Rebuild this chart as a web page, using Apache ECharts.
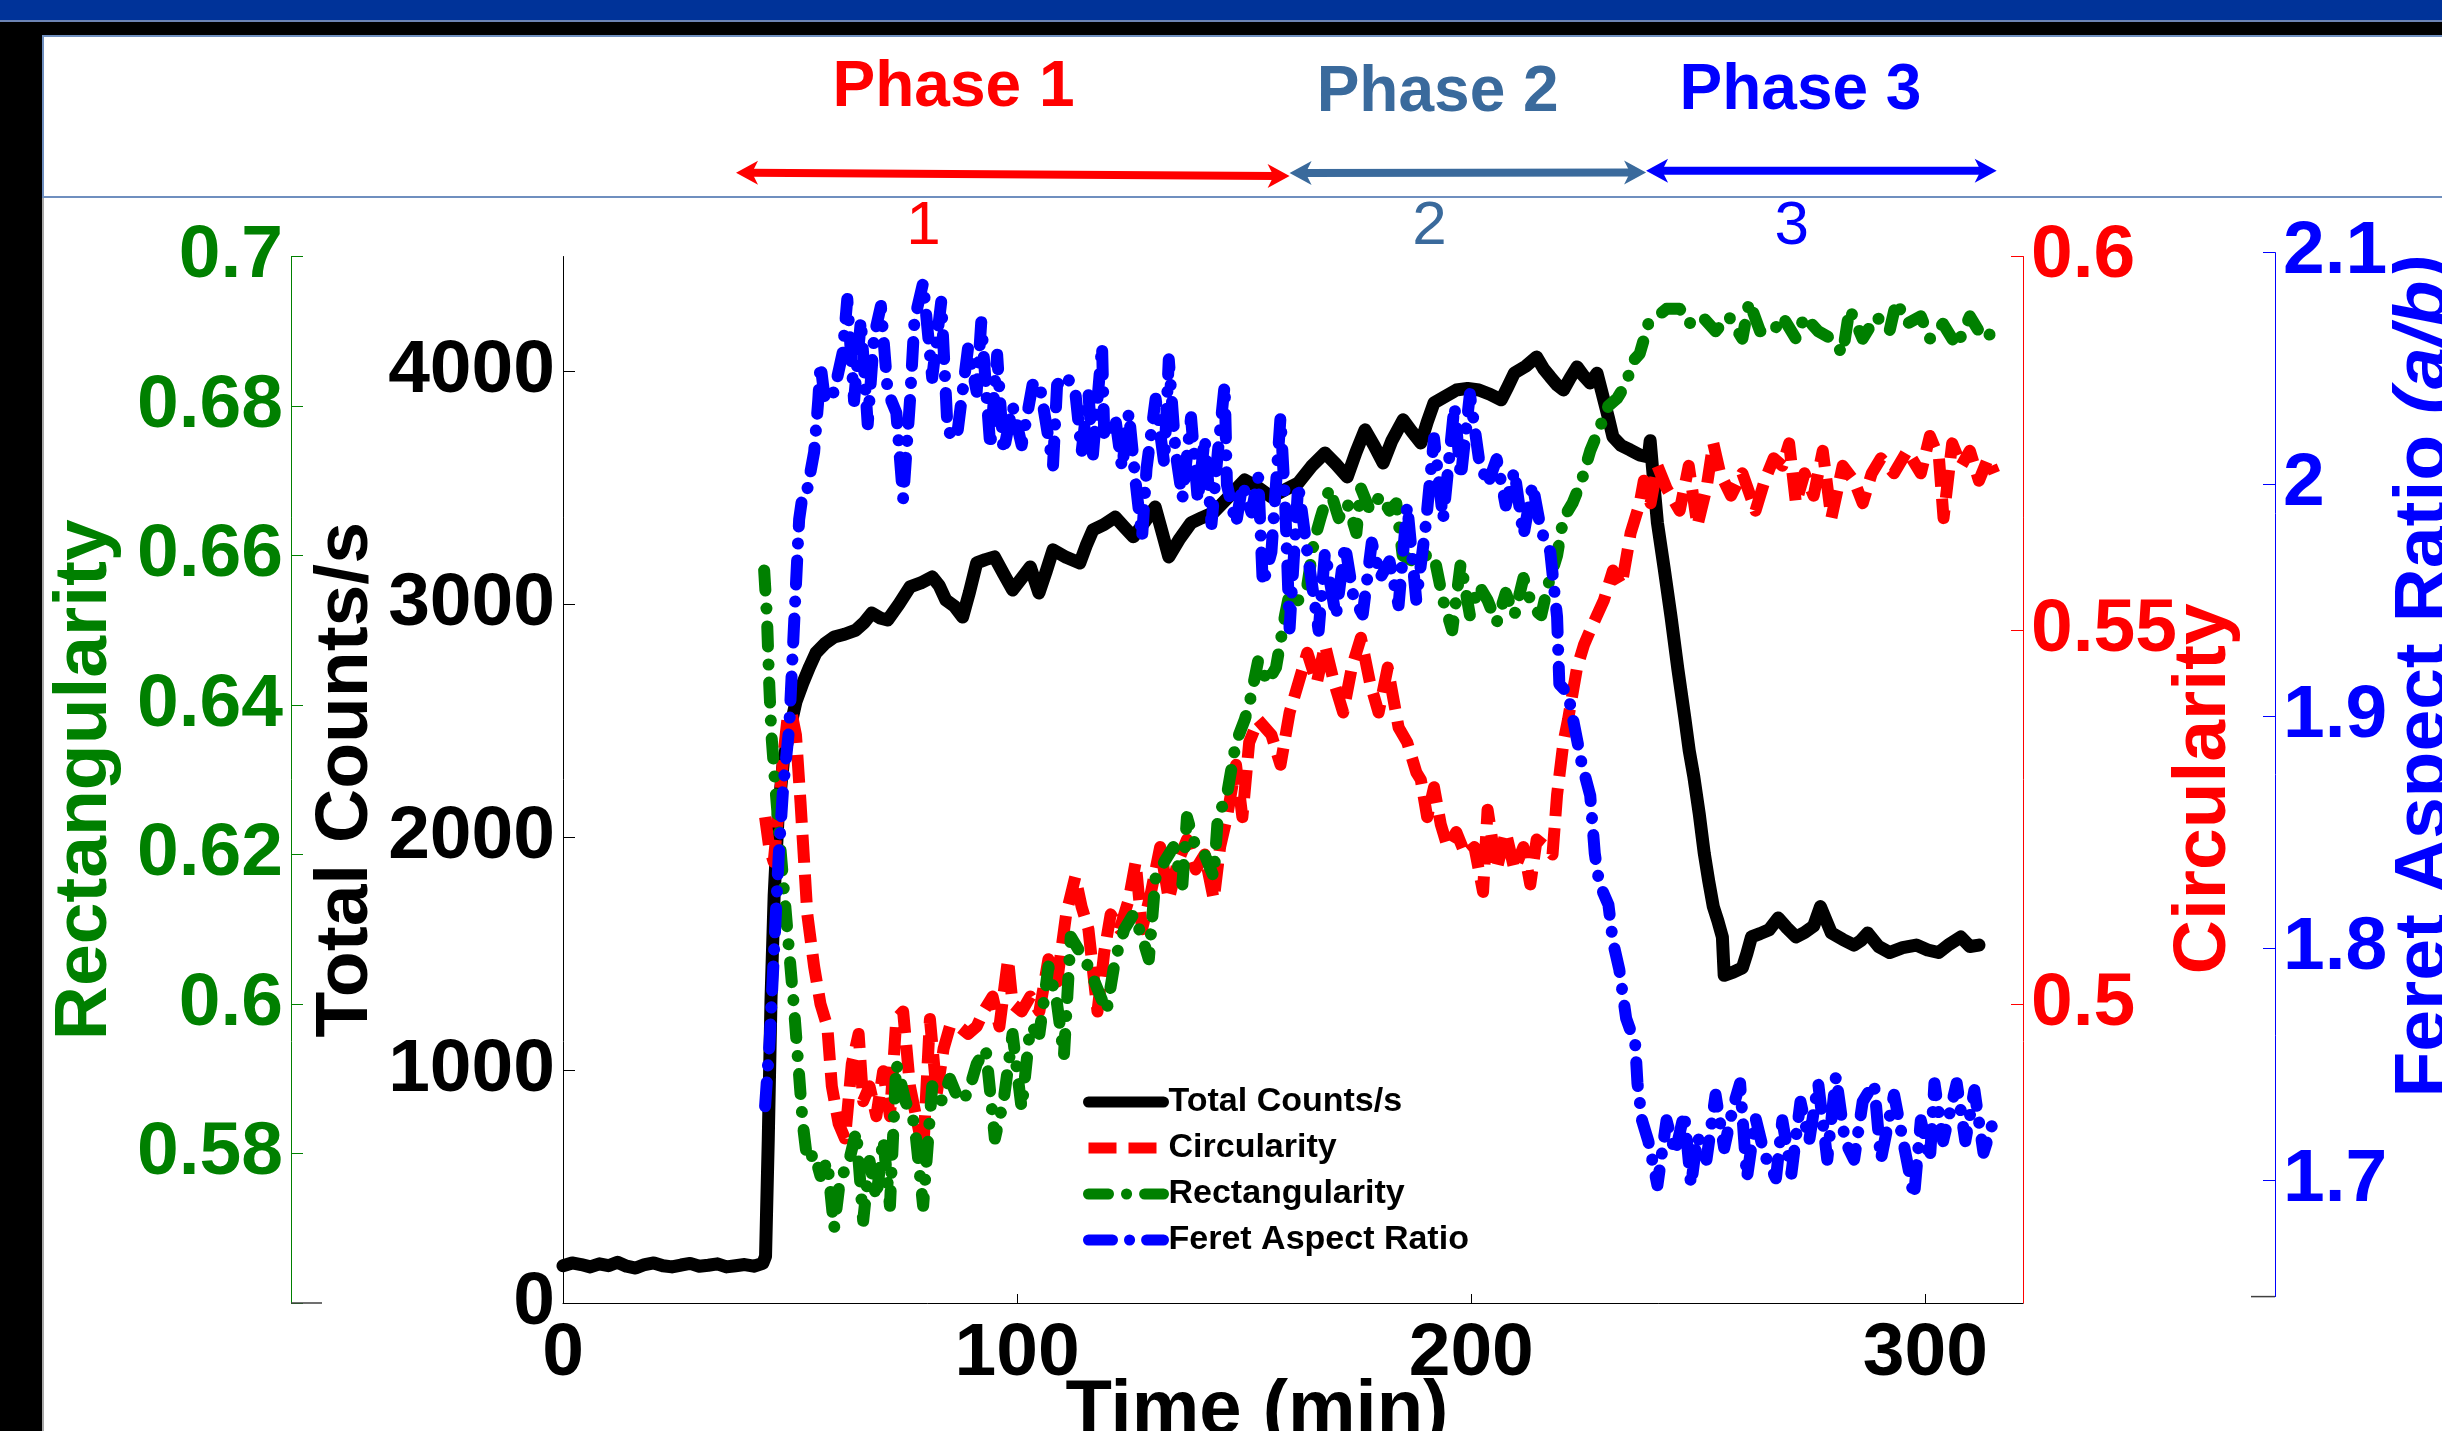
<!DOCTYPE html>
<html><head><meta charset="utf-8">
<script src="https://cdn.jsdelivr.net/npm/echarts@6/dist/echarts.min.js"></script>
<style>html,body{margin:0;padding:0;background:#fff;overflow:hidden}#c{width:2442px;height:1431px}</style>
</head><body><div id="c"></div>
<script>
// ---------------- data ----------------
const countT = [0,2,4,6,8,10,12,14,16,18,20,22,24,26,28,30,32,34,36,38,40,42,44,44.6,45.2,45.8,46.5,47.4,48.5,49.8,51.3,52.8,54.3,55.7,57.7,59.7,62,64.5,66.3,68,69.8,71.5,74,76.4,78.8,81.3,82.8,84.3,86.2,88,89.5,91.1,93,95,97,99,101,102.9,104.8,106.4,107.9,110.8,113.8,115.2,116.7,119.1,121.6,123.6,125.6,128,130.4,131.9,133.4,135.8,138.3,140.7,143.2,146.6,150.1,153,156,159,161.9,164.8,167.8,170.2,172.7,174.6,176.6,178.6,180.6,182.5,185,186.9,188.9,190.3,191.8,194.2,196.7,199.2,201.7,204.1,206.6,208,209.5,212,214.4,215.9,217.4,218.9,220.3,221.8,223.3,224.7,226.2,227.7,229.2,230.2,231.2,233,235,237,239,239.4,240.2,241,242.5,244,245.5,247,248,249,250.2,251.3,252.3,253.3,254.3,255.3,255.7,257.7,259.7,260.7,261.7,263.6,265.6,267.6,269.5,271.5,273.4,275.4,276.9,279.3,281.8,284.3,285.8,287.3,289.7,292.1,295,298,300.5,302.9,305.3,307.8,309.8,311.8];
const countV = [160,172,165,155,168,160,175,158,150,165,172,160,155,163,170,158,162,168,155,160,165,158,170,200,700,1300,1750,2100,2320,2450,2580,2660,2730,2790,2830,2858,2870,2888,2920,2961,2940,2931,3000,3073,3090,3116,3080,3017,2990,2944,3050,3176,3190,3202,3130,3060,3110,3159,3047,3140,3232,3200,3176,3250,3318,3340,3373,3330,3288,3350,3416,3310,3202,3280,3348,3370,3391,3460,3532,3500,3459,3490,3519,3590,3648,3600,3545,3650,3747,3680,3605,3700,3790,3740,3691,3780,3863,3890,3918,3925,3918,3900,3876,3930,3991,4020,4060,4010,3974,3940,3918,3970,4017,3980,3948,3990,3876,3800,3717,3680,3661,3640,3631,3700,3520,3348,3150,2944,2720,2515,2370,2260,2100,1931,1810,1701,1640,1571,1406,1420,1438,1500,1571,1585,1602,1652,1610,1571,1590,1618,1701,1588,1560,1536,1555,1588,1530,1504,1525,1536,1515,1504,1540,1571,1530,1536];

const circT = [44.5,45.4,46.4,47.5,48.5,49.4,50.3,51.3,52.3,53.8,55.3,56.7,58.2,59.2,60.7,62.1,63.6,65.1,66.1,67.5,69.0,70.5,72.0,73.4,74.9,76.4,78.4,79.3,80.8,82.3,83.8,85.2,87.2,89.2,91.1,92.6,94.6,96.1,98.0,99.0,101.0,102.9,104.9,106.9,108.8,110.8,112.8,114.2,115.7,117.7,119.2,120.6,122.6,124.6,126.1,127.5,129.5,131.5,133.4,135.4,137.4,139.3,141.3,143.3,144.7,146.2,148.2,149.6,151.1,153.1,156.0,158.0,160.0,161.0,163.9,166.0,167.8,169.8,171.8,173.7,175.7,177.7,179.6,181.6,184.0,185.9,187.9,188.9,190.3,191.8,193.3,194.8,196.7,198.7,200.7,202.6,203.6,205.6,207.6,209.5,211.5,213.0,214.4,216.4,217.9,218.9,220.3,221.3,223.3,224.8,226.2,227.7,229.2,231.2,233.1,235.1,237.1,238.0,239.5,241.0,243.0,245.9,247.9,249.8,251.8,253.3,254.8,257.2,259.7,262.6,264.6,266.6,268.5,270.0,271.5,273.4,275.4,277.4,279.3,281.8,284.3,286.2,288.2,290.2,293.1,296.0,299.0,301.0,303.0,304.0,305.9,307.9,309.8,311.8,313.8,315.2];
const circV = [0.525,0.521,0.519,0.526,0.533,0.538,0.539,0.536,0.527,0.512,0.505,0.500,0.497,0.489,0.484,0.482,0.492,0.496,0.487,0.489,0.485,0.491,0.485,0.498,0.499,0.489,0.483,0.480,0.498,0.488,0.494,0.497,0.497,0.496,0.497,0.499,0.501,0.497,0.506,0.500,0.499,0.501,0.499,0.506,0.503,0.512,0.517,0.513,0.510,0.499,0.507,0.512,0.510,0.514,0.519,0.510,0.515,0.521,0.514,0.519,0.522,0.518,0.520,0.514,0.521,0.525,0.532,0.525,0.535,0.538,0.536,0.532,0.539,0.541,0.547,0.543,0.548,0.543,0.539,0.545,0.549,0.543,0.539,0.545,0.537,0.535,0.531,0.530,0.525,0.529,0.524,0.521,0.523,0.520,0.521,0.515,0.526,0.518,0.523,0.518,0.521,0.516,0.522,0.521,0.520,0.528,0.535,0.538,0.545,0.548,0.550,0.552,0.554,0.558,0.556,0.563,0.567,0.570,0.567,0.572,0.569,0.566,0.572,0.564,0.569,0.575,0.571,0.568,0.571,0.566,0.570,0.573,0.572,0.575,0.567,0.571,0.568,0.574,0.565,0.572,0.570,0.567,0.571,0.573,0.571,0.574,0.571,0.576,0.573,0.565,0.575,0.572,0.574,0.570,0.573,0.571];

const rectT = [44.3,44.9,45.4,45.9,46.9,48.4,49.8,50.8,51.8,52.8,53.8,55.3,56.7,58.2,59.7,61.1,62.6,64.6,66.1,67.5,69.0,70.5,72.0,73.4,75.4,77.4,79.3,81.3,83.3,85.2,87.2,89.2,91.1,93.1,95.1,97.0,99.0,101.0,102.9,104.9,106.9,108.8,110.3,111.8,113.8,115.7,117.7,119.7,121.6,123.6,125.6,127.5,129.0,130.5,132.4,134.4,136.4,137.4,139.3,141.3,143.3,144.2,146.2,148.2,150.1,151.1,153.1,155.1,157.0,159.0,160.0,161.9,163.9,165.4,166.8,168.8,170.8,172.7,174.7,175.7,177.7,180.0,182.0,183.5,184.9,187.9,189.9,191.8,193.8,195.8,197.7,199.7,201.7,203.6,205.6,207.6,209.5,211.5,213.5,215.4,216.9,218.9,220.3,222.3,224.3,226.2,228.2,230.2,232.1,234.1,235.6,237.1,239.0,241.0,243.0,245.9,247.9,250.8,253.8,256.7,259.7,261.2,263.6,266.6,268.5,271.5,273.4,276.4,279.3,281.8,283.3,286.2,289.2,292.1,293.6,296.0,299.0,301.0,303.9,306.9,309.8,312.8,315.2];
const rectV = [0.658,0.652,0.643,0.636,0.628,0.617,0.607,0.600,0.592,0.584,0.579,0.580,0.577,0.579,0.570,0.577,0.578,0.583,0.571,0.579,0.574,0.582,0.573,0.592,0.587,0.584,0.573,0.589,0.587,0.590,0.587,0.588,0.592,0.594,0.582,0.587,0.596,0.586,0.597,0.596,0.605,0.600,0.593,0.609,0.607,0.605,0.602,0.599,0.606,0.610,0.612,0.609,0.606,0.617,0.619,0.621,0.616,0.625,0.621,0.620,0.617,0.625,0.628,0.635,0.638,0.640,0.646,0.643,0.645,0.652,0.655,0.654,0.656,0.662,0.665,0.669,0.665,0.667,0.663,0.669,0.666,0.668,0.666,0.667,0.660,0.659,0.660,0.660,0.654,0.650,0.659,0.652,0.656,0.654,0.651,0.655,0.652,0.657,0.653,0.652,0.656,0.660,0.665,0.667,0.670,0.674,0.677,0.680,0.681,0.683,0.686,0.687,0.691,0.692,0.693,0.693,0.691,0.692,0.690,0.692,0.689,0.694,0.690,0.690,0.692,0.689,0.692,0.690,0.689,0.687,0.693,0.689,0.692,0.690,0.694,0.691,0.692,0.689,0.691,0.688,0.692,0.689,0.690];

const feretT = [44.5,45.5,46.5,47.5,48.5,49.8,51.3,52.0,52.8,53.7,55.3,56.2,56.7,57.7,59.7,61.6,62.6,64.1,65.6,67.1,68.5,70.0,71.5,73.4,74.9,76.4,77.4,79.3,81.3,83.3,84.7,86.7,89.2,91.1,92.1,94.1,95.6,97.0,99.0,101.0,103.4,104.9,107.9,108.8,110.8,112.8,114.2,115.7,116.7,118.7,119.2,121.6,123.1,124.6,126.1,127.5,128.5,130.5,132.4,133.4,134.9,136.4,138.3,139.8,141.3,142.8,144.2,145.7,146.2,148.2,149.6,151.6,153.1,154.1,156.0,158.0,159.0,160.0,161.9,163.9,166.4,167.8,170.2,172.2,174.1,176.1,178.1,180.0,182.0,184.0,185.9,187.9,189.9,191.8,193.8,196.3,197.7,199.7,201.7,203.6,205.6,207.6,209.5,211.5,213.5,215.4,217.4,218.9,219.4,221.3,222.8,224.3,226.2,227.2,228.2,230.2,231.2,232.6,234.1,236.1,236.6,237.6,239.0,241.0,243.0,244.9,246.9,248.4,249.8,251.8,253.8,255.7,257.7,259.2,260.7,262.6,264.6,267.1,268.5,270.5,272.5,274.4,276.4,278.4,280.3,282.3,284.3,286.2,288.7,290.2,293.1,295.1,297.5,299.0,301.0,302.0,303.9,306.9,308.8,310.8,312.8,314.7];
const feretV = [1.732,1.760,1.800,1.840,1.870,1.895,1.957,1.985,1.996,1.997,2.014,2.036,2.052,2.036,2.040,2.057,2.080,2.036,2.071,2.026,2.064,2.077,2.040,2.031,1.994,2.036,2.071,2.087,2.046,2.079,2.023,2.020,2.059,2.040,2.070,2.016,2.056,2.014,2.034,2.017,2.043,2.044,2.008,2.043,2.047,2.040,2.014,2.039,2.013,2.060,2.020,2.029,2.007,2.031,2.001,1.977,2.007,2.037,2.009,2.054,2.014,1.994,2.029,1.993,2.020,1.983,2.014,2.043,2.000,1.983,2.000,1.988,2.003,1.957,1.971,2.029,1.993,1.938,2.000,1.971,1.937,1.971,1.943,1.974,1.951,1.944,1.975,1.960,1.967,1.948,1.991,1.950,1.981,2.020,1.985,2.034,2.003,2.039,2.011,2.000,2.011,1.991,2.006,1.978,2.000,1.980,1.971,1.943,1.914,1.910,1.895,1.880,1.866,1.841,1.828,1.819,1.803,1.791,1.770,1.759,1.742,1.726,1.717,1.698,1.726,1.712,1.729,1.698,1.719,1.709,1.737,1.714,1.732,1.742,1.701,1.727,1.711,1.701,1.726,1.703,1.734,1.717,1.742,1.709,1.745,1.717,1.709,1.734,1.742,1.709,1.737,1.717,1.693,1.726,1.709,1.742,1.717,1.742,1.717,1.739,1.712,1.724];

const xTicks = [0, 100, 200, 300];
const countTicks = [0, 1000, 2000, 3000, 4000];
const rectTicks = [0.56, 0.58, 0.60, 0.62, 0.64, 0.66, 0.68, 0.70];
const rectLabels = [0.58, 0.60, 0.62, 0.64, 0.66, 0.68, 0.70];
const circTicks = [0.50, 0.55, 0.60];
const feretTicks = [1.7, 1.8, 1.9, 2.0, 2.1];

const phaseNames = ['Phase 1', 'Phase 2', 'Phase 3'];
const phaseNums = ['1', '2', '3'];
const phaseBounds = [38.1, 160.0, 238.5, 315.7];   // time (min) where the phase arrows start / end
const phaseLabelT = [86.0, 192.6, 272.5];
const phaseNumT = [79.4, 190.8, 270.6];
const phaseColors = ['#ff0000', '#3a6a9c', '#0000ff'];

// ---------------- chart ----------------
const FONT = '"Liberation Sans", Arial, Helvetica, sans-serif';
const zip = (a, b) => a.map((t, i) => [t, b[i]]);
const fmt = v => String(+(+v).toFixed(3));
const GL = 563, GR = 2023, GT = 256.5, GB = 1303;
const W = 2442, H = 1431;

function yAx(o) {
  return Object.assign({
    type: 'value', splitLine: { show: false },
    nameLocation: 'middle', nameRotate: 90, nameMoveOverlap: false,
    axisLine: { show: true, onZero: false, lineStyle: { color: o.color, width: 1 } },
    axisTick: { show: true, inside: true, length: 12, customValues: o.ticks, lineStyle: { color: o.color, width: 1 } },
    axisLabel: { customValues: o.labels || o.ticks, formatter: fmt, color: o.color, fontSize: 75, fontWeight: 'bold', fontFamily: FONT, margin: 8 },
    nameTextStyle: Object.assign({ color: o.color, fontSize: 75, fontWeight: 'bold', fontFamily: FONT }, o.nts || {})
  }, o.extra);
}

const chart = echarts.init(document.getElementById('c'), null, { renderer: 'canvas', width: W, height: H });

const option = {
  animation: false,
  backgroundColor: '#ffffff',
  grid: [
    { left: GL, right: W - GR, top: GT, bottom: H - GB, containLabel: false, outerBoundsMode: 'none' },
    { left: GL, right: W - GR, top: 252.6, bottom: H - 1296.6, containLabel: false, outerBoundsMode: 'none' }
  ],
  xAxis: [
    { type: 'value', gridIndex: 0, min: 0, max: 321.5, position: 'bottom',
      axisLine: { show: true, onZero: false, lineStyle: { color: '#000', width: 1 } },
      axisTick: { show: true, inside: true, length: 9, customValues: xTicks, lineStyle: { color: '#000' } },
      axisLabel: { customValues: xTicks, color: '#000', fontSize: 75, fontWeight: 'bold', fontFamily: FONT, margin: 14 },
      splitLine: { show: false },
      name: 'Time (min)', nameLocation: 'middle', nameGap: 71, nameMoveOverlap: false,
      nameTextStyle: { color: '#000', fontSize: 76, fontWeight: 'bold', fontFamily: FONT, padding: [0, 72, 0, 0] } },
    { type: 'value', gridIndex: 1, min: 0, max: 321.5, show: false, axisLine: { onZero: false } }
  ],
  yAxis: [
    yAx({ color: '#008000', ticks: rectTicks, labels: rectLabels, extra: {
      gridIndex: 0, position: 'left', offset: GL - 291, min: 0.56, max: 0.70,
      name: 'Rectangularity', nameGap: 168 } }),
    yAx({ color: '#000000', ticks: countTicks, extra: {
      gridIndex: 0, position: 'left', offset: 0, min: 0, max: 4491,
      name: 'Total Counts/s', nameGap: 179 } }),
    yAx({ color: '#ff0000', ticks: circTicks, nts: { padding: [0, 18, 0, 0] }, extra: {
      gridIndex: 0, position: 'right', offset: 0, min: 0.46, max: 0.60,
      name: 'Circularity', nameGap: 144 } }),
    yAx({ color: '#0000ff', ticks: feretTicks, nts: {
        padding: [0, 0, 0, 196],
        rich: {
          n: { color: '#0000ff', fontSize: 75, fontWeight: 'bold', fontFamily: FONT },
          i: { color: '#0000ff', fontSize: 75, fontWeight: 'bold', fontStyle: 'italic', fontFamily: FONT }
        } }, extra: {
      gridIndex: 1, position: 'right', offset: 2275 - GR, min: 1.65, max: 2.1,
      name: '{n|Feret Aspect Ratio }{i|(a/b)}', nameGap: 113 } })
  ],
  legend: {
    orient: 'vertical', left: 1083, top: 1085, padding: 0,
    itemWidth: 75, itemHeight: 14, itemGap: 12,
    itemStyle: { opacity: 0 },
    lineStyle: { width: 11 },
    textStyle: { color: '#000', fontSize: 34, fontWeight: 'bold', fontFamily: FONT },
    data: ['Total Counts/s', 'Circularity', 'Rectangularity', 'Feret Aspect Ratio']
  },
  series: [
    { name: 'Total Counts/s', type: 'line', xAxisIndex: 0, yAxisIndex: 1, data: zip(countT, countV),
      symbol: 'none', itemStyle: { color: '#000000' },
      lineStyle: { color: '#000000', width: 13, join: 'round', cap: 'round' } },
    { name: 'Circularity', type: 'line', xAxisIndex: 0, yAxisIndex: 2, data: zip(circT, circV),
      symbol: 'none', itemStyle: { color: '#ff0000' },
      lineStyle: { color: '#ff0000', width: 12, type: [28, 12], cap: 'butt', join: 'round' } },
    { name: 'Rectangularity', type: 'line', xAxisIndex: 0, yAxisIndex: 0, data: zip(rectT, rectV),
      symbol: 'none', itemStyle: { color: '#008000' },
      lineStyle: { color: '#008000', width: 12, type: [20, 18, 0.1, 18], cap: 'round', join: 'round' } },
    { name: 'Feret Aspect Ratio', type: 'line', xAxisIndex: 1, yAxisIndex: 3, data: zip(feretT, feretV),
      symbol: 'none', itemStyle: { color: '#0000ff' },
      lineStyle: { color: '#0000ff', width: 12, type: [24, 17, 0.1, 17], cap: 'round', join: 'round' } }
  ]
};
chart.setOption(option);

// ---------------- frame + phase annotations ----------------
const px = t => chart.convertToPixel({ xAxisIndex: 0 }, t);
const arrowY = [[172.7, 176.0], [173.0, 172.5], [170.7, 170.7]];
const g = [
  { type: 'rect', z: 0, shape: { x: 0, y: 0, width: W, height: 20 }, style: { fill: '#003399' } },
  { type: 'rect', z: 0, shape: { x: 0, y: 20, width: W, height: 2 }, style: { fill: '#6d84b4' } },
  { type: 'rect', z: 0, shape: { x: 0, y: 22, width: W, height: 14 }, style: { fill: '#000000' } },
  { type: 'rect', z: 0, shape: { x: 0, y: 22, width: 42, height: H }, style: { fill: '#000000' } },
  { type: 'line', z: 0, shape: { x1: 43, y1: 36, x2: 43, y2: H }, style: { stroke: '#8a8a8a', lineWidth: 1.5 } },
  { type: 'rect', z: 0, shape: { x: 43, y: 36, width: W, height: 161 }, style: { fill: '#ffffff', stroke: '#6f8fbf', lineWidth: 2 } },
  // stub axis lines at the bottom of the offset axes
  { type: 'line', z: 1, shape: { x1: 291, y1: GB, x2: 322, y2: GB }, style: { stroke: '#404040', lineWidth: 1.5 } },
  { type: 'line', z: 1, shape: { x1: 2251, y1: 1296.6, x2: 2275, y2: 1296.6 }, style: { stroke: '#404040', lineWidth: 1.5 } }
];
function head(x, y, dir, color) {
  return { type: 'polygon', z: 3, shape: { points: [[x, y], [x - dir * 22, y - 12], [x - dir * 16, y], [x - dir * 22, y + 12]] }, style: { fill: color } };
}
for (let i = 0; i < 3; i++) {
  const x1 = px(phaseBounds[i]), x2 = px(phaseBounds[i + 1]);
  const [y1, y2] = arrowY[i];
  const c = phaseColors[i];
  g.push({ type: 'line', z: 2, shape: { x1: x1 + 14, y1: y1, x2: x2 - 14, y2: y2 }, style: { stroke: c, lineWidth: 8 } });
  g.push(head(x1, y1, -1, c));
  g.push(head(x2, y2, 1, c));
  g.push({ type: 'text', z: 3, x: px(phaseLabelT[i]), y: [88, 93, 91][i],
    style: { text: phaseNames[i], fill: c, font: 'bold 64px ' + FONT, align: 'center', verticalAlign: 'middle' } });
  g.push({ type: 'text', z: 3, x: px(phaseNumT[i]), y: 227,
    style: { text: phaseNums[i], fill: c, font: '62px ' + FONT, align: 'center', verticalAlign: 'middle' } });
}
chart.setOption({ graphic: g });
</script>
</body></html>
